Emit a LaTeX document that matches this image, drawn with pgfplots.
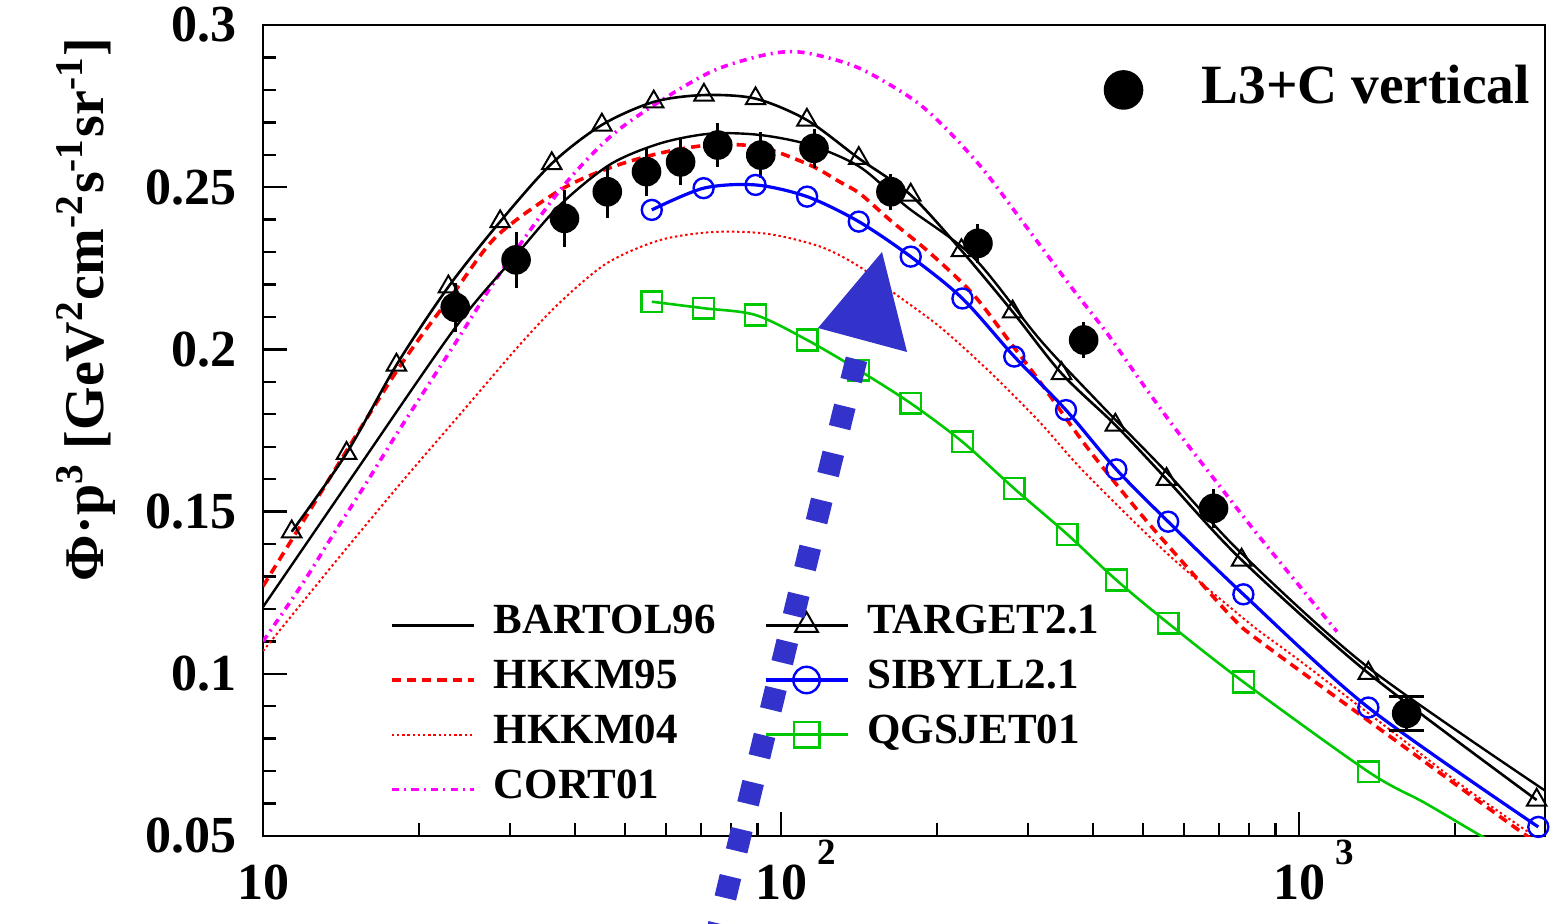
\documentclass[border=0pt]{standalone}
\usepackage{pgfplots}
\pgfplotsset{compat=1.18}
\usepackage{fontspec}
\setmainfont{Liberation Serif}
\definecolor{cgreen}{RGB}{0,200,0}
\definecolor{carrow}{RGB}{51,51,204}
\definecolor{cmag}{RGB}{255,0,255}
\newcommand{\tlab}[1]{10\rlap{\hspace{2.5pt}\raisebox{8.75pt}{\fontsize{9.25}{9.25}\selectfont\bfseries #1}}}
\pgfplotsset{
 bartol/.style={black, line width=0.6pt},
 hkkmA/.style={red, line width=0.9pt, dash pattern=on 2.3pt off 1.5pt},
 hkkmB/.style={red, line width=0.5pt, dash pattern=on 0.6pt off 0.7pt},
 cort/.style={cmag, line width=0.9pt, dash pattern=on 1.8pt off 1.3pt on 0.5pt off 1.3pt},
 target/.style={black, line width=0.65pt},
 sibyll/.style={blue, line width=0.8pt},
 qgs/.style={cgreen, line width=0.65pt},
}
\begin{document}
\begin{tikzpicture}
\begin{axis}[
  scale only axis, width=320.5pt, height=202.75pt,
  xmode=log, xmin=10, xmax=2985, ymin=0.05, ymax=0.3,
  axis line style={line width=0.6pt},
  every tick/.style={line width=0.6pt, black},
  tick align=inside, tick pos=left,
  major tick length=6pt, minor tick length=3.3pt,
  xtick={10,100,1000},
  xticklabels={\tlab{\phantom{2}},\tlab{2},\tlab{3}},
  minor xtick={20,30,40,50,60,70,80,90,200,300,400,500,600,700,800,900,2000},
  ytick={0.05,0.1,0.15,0.2,0.25,0.3},
  yticklabels={0.05,0.1,0.15,0.2,0.25,0.3},
  minor ytick={0.06,0.07,0.08,0.09,0.11,0.12,0.13,0.14,0.16,0.17,0.18,0.19,0.21,0.22,0.23,0.24,0.26,0.27,0.28,0.29},
  tick label style={font=\fontsize{13}{13}\selectfont\bfseries},
  yticklabel style={xshift=-3.2pt},
  xticklabel style={yshift=2.5pt},
  ylabel={Φ·p\textsuperscript{3} [GeV\textsuperscript{2}cm\textsuperscript{-2}s\textsuperscript{-1}sr\textsuperscript{-1}]},
  ylabel style={font=\fontsize{14}{14}\selectfont\bfseries, at={(axis description cs:-0.138,1.002)}, anchor=east},
  legend cell align=left,
  legend style={at={(rel axis cs:0.9883,0.952)}, anchor=north east, draw=none, fill=none,
    inner sep=0pt, outer sep=0pt, font=\fontsize{13.85}{13.85}\selectfont\bfseries,
    nodes={inner xsep=0pt, inner ysep=0pt, text height=10pt, text depth=3pt},
    /tikz/every odd column/.append style={column sep=14.75pt}},
  legend image code/.code={\draw[#1] plot coordinates {(0pt,0pt)};},
]
% HKKM04
\addplot[hkkmB, smooth, forget plot] table[x=p,y=v] {
p v
10 0.1070
13.47 0.1325
18.39 0.1585
24.01 0.1800
31.34 0.2015
37.45 0.2145
46.14 0.2266
58.41 0.2337
74.25 0.2362
94.38 0.2356
119.5 0.2316
142.1 0.2254
162.3 0.2183
202.8 0.2069
253.2 0.1930
316.2 0.1775
383.4 0.1625
555.4 0.1372
746.7 0.1197
840.9 0.1130
1004 0.1040
1519 0.0820
2046 0.0660
2755 0.0515
2985 0.0480
};
% HKKM95
\addplot[hkkmA, smooth, forget plot] table[x=p,y=v] {
p v
10 0.1270
11.18 0.1395
17.98 0.1925
23.48 0.2180
28.30 0.2350
37.45 0.2491
46.76 0.2560
58.41 0.2605
72.94 0.2630
91.08 0.2624
113.8 0.2568
130.0 0.2516
142.1 0.2480
162.3 0.2399
194.0 0.2297
234.9 0.2170
280.5 0.2010
316.2 0.1900
389.1 0.1700
493.3 0.1495
607.1 0.1330
746.7 0.1170
840.9 0.1100
1519 0.0800
2755 0.0500
2985 0.0470
};
% CORT01
\addplot[cort, smooth, forget plot] table[x=p,y=v] {
p v
10 0.1100
11.945 0.1280
13.65 0.1428
15.74 0.1582
17.98 0.1731
20.55 0.1875
23.48 0.2018
28.68 0.2235
37.45 0.2491
46.76 0.2655
58.41 0.2765
74.25 0.2860
94.38 0.2910
110.8 0.2915
140.2 0.2870
178.2 0.2775
205.5 0.2690
245.5 0.2555
298.5 0.2375
366.2 0.2185
426.0 0.2050
493.3 0.1905
571.2 0.1765
682.3 0.1605
815.1 0.1447
973.7 0.1295
1184 0.1130
};
% BARTOL96
\addplot[bartol, smooth, forget plot] table[x=p,y=v] {
p v
10 0.1206
15.05 0.1620
23.48 0.2066
30.79 0.2290
37.45 0.2445
46.76 0.2570
58.41 0.2635
72.94 0.2665
91.08 0.2661
113.8 0.2630
142.1 0.2562
175.1 0.2439
234.9 0.2285
316.2 0.2030
412.9 0.1832
556.1 0.1620
776.1 0.1370
1359 0.1020
2985 0.0640
};
% TARGET2.1
\addplot[target, smooth, mark=triangle, mark size=2.8pt, mark options={solid, line width=0.5pt}, forget plot] table[x=p,y=v] {
p v
11.36 0.1438
14.5 0.1680
18.1 0.1952
22.8 0.2193
28.7 0.2394
36.1 0.2573
45.1 0.2692
56.8 0.2763
71.0 0.2784
89.3 0.2773
112.2 0.2707
141.3 0.2589
178 0.2476
223 0.2305
280 0.2116
348 0.1926
442 0.1767
555 0.1600
775 0.1351
1361 0.1002
2876 0.0611
};
% SIBYLL2.1
\addplot[sibyll, smooth, mark=o, mark size=2.5pt, mark options={solid, line width=0.6pt}, forget plot] table[x=p,y=v] {
p v
56.3 0.2430
70.9 0.2497
89.3 0.2507
112.3 0.2471
141.3 0.2394
178 0.2286
224 0.2157
282 0.1978
355 0.1813
444 0.1630
559 0.1469
781 0.1245
1361 0.0896
2897 0.0528
};
% QGSJET01 line
\addplot[qgs, smooth, forget plot] table[x=p,y=v] {
p v
56.3 0.2147
70.9 0.2127
89.3 0.2106
112.3 0.2029
141.3 0.1936
178 0.1834
224 0.1715
282 0.1571
357 0.1430
444 0.1289
559 0.1156
781 0.0975
1361 0.0698
1750 0.0602
2265 0.0497
2900 0.0400
};
% QGSJET01 marks
\addplot[only marks, mark=square, mark size=2.6pt, mark options={cgreen, line width=0.6pt}, forget plot] table[x=p,y=v] {
p v
56.3 0.2147
70.9 0.2127
89.3 0.2106
112.3 0.2029
141.3 0.1936
178 0.1834
224 0.1715
282 0.1571
357 0.1430
444 0.1289
559 0.1156
781 0.0975
1361 0.0698
};
% L3+C data
\addplot[only marks, mark=*, mark size=3.5pt, black, forget plot,
  error bars/.cd, y dir=both, y explicit, error mark=none,
  error bar style={line width=0.75pt, black}] table[x=p,y=v,y error=e] {
p v e
23.5 0.2130 0.0075
30.8 0.2276 0.0087
38.2 0.2404 0.0087
46.2 0.2486 0.0080
55.0 0.2548 0.0075
64.0 0.2578 0.0070
75.5 0.2630 0.0067
91.4 0.2599 0.0070
115.8 0.2620 0.0060
163 0.2486 0.0055
240 0.2327 0.0060
384 0.2029 0.0055
684 0.1510 0.0060
};
\addplot[only marks, mark=*, mark size=3.5pt, black, forget plot,
  error bars/.cd, y dir=both, y explicit,
  error mark options={black, line width=0.75pt, mark size=4.4pt, rotate=90},
  error bar style={line width=0.75pt, black}] table[x=p,y=v,y error=e] {
p v e
1614 0.0878 0.0052
};
\addlegendimage{only marks, mark=*, mark size=4.75pt, black}
\addlegendentry{L3+C vertical}
\end{axis}
\begin{axis}[
  scale only axis, width=320.5pt, height=202.75pt, hide axis,
  xmode=log, xmin=10, xmax=2985, ymin=0.05, ymax=0.3,
  legend columns=2, legend cell align=left,
  legend style={at={(rel axis cs:0.0991,0.2935)}, anchor=north west, draw=none, fill=none,
    inner sep=0pt, outer sep=0pt, font=\fontsize{10.75}{10.75}\selectfont\bfseries,
    nodes={inner xsep=0pt, inner ysep=0pt, text height=9pt, text depth=4.67pt},
    /tikz/every odd column/.append style={column sep=4.5pt},
    /tikz/every even column/.append style={column sep=12pt}},
  legend image code/.code={\draw[mark repeat=2,mark phase=2,#1] plot coordinates {(0pt,0pt) (10.25pt,0pt) (20.5pt,0pt)};},
]
\addlegendimage{bartol}
\addlegendentry{BARTOL96}
\addlegendimage{target, mark=triangle, mark size=3.3pt, mark options={solid, line width=0.5pt}}
\addlegendentry{TARGET2.1}
\addlegendimage{hkkmA}
\addlegendentry{HKKM95}
\addlegendimage{sibyll, mark=o, mark size=3.3pt, mark options={solid, line width=0.6pt}}
\addlegendentry{SIBYLL2.1}
\addlegendimage{hkkmB}
\addlegendentry{HKKM04}
\addlegendimage{qgs, mark=square, mark size=3.2pt, mark options={solid, line width=0.6pt}}
\addlegendentry{QGSJET01}
\addlegendimage{cort}
\addlegendentry{CORT01}
\end{axis}
\begin{scope}[shift={(-65.75pt,209pt)}, x=0.25pt, y=-0.25pt]
\draw[carrow, line width=5.5pt, dash pattern=on 5.5pt off 6.6pt] (714,945) .. controls (770,712) and (822,498) .. (860,345);
\fill[carrow] (882,252) -- (818,328) -- (907,352) -- cycle;
\end{scope}
\pgfresetboundingbox
\begin{scope}[shift={(-65.75pt,209pt)}, x=0.25pt, y=-0.25pt]
\path[use as bounding box] (0,0) rectangle (1562,923);
\end{scope}
\end{tikzpicture}
\end{document}
